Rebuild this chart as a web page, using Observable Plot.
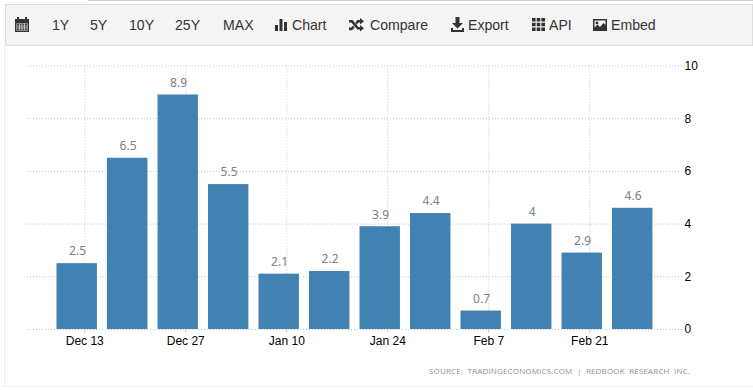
<!DOCTYPE html>
<html>
<head>
<meta charset="utf-8">
<script src="https://cdn.jsdelivr.net/npm/d3@7"></script>
<script src="https://cdn.jsdelivr.net/npm/@observablehq/plot@0.6"></script>
<style>
html,body{margin:0;padding:0;background:#fff;width:753px;height:390px;overflow:hidden}
#page{position:relative;width:753px;height:390px;font-family:"Liberation Sans",Arial,sans-serif}
#topline{position:absolute;left:88px;right:0;top:0;height:1px;background:#ccc}
#frameL{position:absolute;left:4px;top:46px;width:1px;height:341px;background:#eee}
#frameB{position:absolute;left:4px;right:0;top:386px;height:1px;background:#eee}
#toolbar{position:absolute;left:5px;top:4px;width:746px;height:40px;background:#f4f4f4;border:1px solid #ddd;color:#333;font-size:14.1px}
#toolbar span,#toolbar svg{position:absolute}
#toolbar span{top:12px;line-height:17px;white-space:nowrap}
#toolbar svg{fill:#333}
#chart{position:absolute;left:0;top:46px}
#chart svg{display:block}
#source{position:absolute;left:429px;top:365px;font:8px "Open Sans",sans-serif;color:#8a8f9c;letter-spacing:.16px;white-space:pre}
</style>
</head>
<body>
<div id="page">
  <div id="topline"></div><div id="frameL"></div><div id="frameB"></div>
  <div id="toolbar"></div>
  <div id="chart"></div>
  <div id="source"></div>
</div>
<script>
const weeks = ["2020-12-12","2020-12-19","2020-12-26","2021-01-02","2021-01-09","2021-01-16","2021-01-23","2021-01-30","2021-02-06","2021-02-13","2021-02-20","2021-02-27"];
const values = [2.5,6.5,8.9,5.5,2.1,2.2,3.9,4.4,0.7,4,2.9,4.6];
const xTicks = ["2020-12-13","2020-12-27","2021-01-10","2021-01-24","2021-02-07","2021-02-21"];
const yTicks = [0,2,4,6,8,10];
const sourceText = "SOURCE:  TRADINGECONOMICS.COM  |  REDBOOK  RESEARCH  INC.";
const rangeLabels = [["1Y",52],["5Y",90],["10Y",129],["25Y",175],["MAX",223]];
const toolLabels = [["Chart",292],["Compare",370],["Export",468],["API",549],["Embed",611]];

const day = 864e5;
const d = s => new Date(s + "T00:00:00Z");
const rows = weeks.map((w,i) => ({date:d(w), value:values[i]}));

const chart = Plot.plot({
  width: 753, height: 344,
  marginLeft: 27, marginRight: 71, marginTop: 19.5, marginBottom: 61,
  style: {background:"transparent"},
  x: {type:"utc", domain:[new Date(d(xTicks[0]).getTime() - 7.94*day), new Date(d(xTicks[0]).getTime() + 82.85*day)]},
  y: {domain:[0,10]},
  marks: [
    Plot.ruleY(yTicks, {stroke:"#c4c4c4", strokeDasharray:"1 2", strokeWidth:1}),
    Plot.ruleX(xTicks.map(d), {stroke:"#c4c4c4", strokeDasharray:"1 2", strokeWidth:1}),
    Plot.rectY(rows, {x1:r => new Date(+r.date - 2.85*day), x2:r => new Date(+r.date + 2.75*day), y1:0, y2:"value", fill:"#4282b2"}),
    Plot.text(rows, {x:"date", y:"value", text:r => String(r.value), dy:-12, fill:"#7d7d85", fontSize:12, fontFamily:"'Noto Sans',sans-serif"}),
    Plot.axisX({ticks:xTicks.map(d), tickFormat:t => d3.utcFormat("%b %-d")(t), tickSize:4, tickPadding:3, stroke:"#ccc", fill:"#000", fontSize:12, fontFamily:"'Liberation Sans',Arial,sans-serif"}),
    Plot.axisY({anchor:"right", ticks:yTicks, tickSize:0, tickPadding:2, label:null, fill:"#000", fontSize:12, textAnchor:"start", fontFamily:"'Liberation Sans',Arial,sans-serif"})
  ]
});
document.getElementById("chart").append(chart);
document.getElementById("source").textContent = sourceText;

const tb = document.getElementById("toolbar");
for (const [t,x] of [...rangeLabels, ...toolLabels]) {
  const s = document.createElement("span");
  s.textContent = t; s.style.left = (x - 6) + "px"; tb.append(s);
}
const icons = [
 [15,`<rect x="0" y="2" width="14" height="13"/><rect x="2" y="0" width="2" height="3"/><rect x="10" y="0" width="2" height="3"/><path d="M1.5 6.5h11v7h-11z" fill="#f4f4f4"/><path d="M2 7h10v6H2z" fill="#444"/><path d="M2 9h10M2 11h10M4.5 7v6M7 7v6M9.5 7v6" stroke="#f4f4f4" stroke-width=".6"/>`,14,15,13],
 [275,`<rect x="0" y="8" width="3" height="6"/><rect x="4.5" y="2" width="3" height="12"/><rect x="9" y="5" width="3" height="9"/>`,12,14,13],
 [349,`<path d="M0 3h3.5l6 7H11V8l4 3.2-4 3.2V12.6H8.3l-6-7H0zM0 10.6h2.3l1.7-2 1.5 1.8-2.4 2.8H0zM8.3 3H11V1l4 3.2-4 3.2V5.4H9.5l-1.7 2-1.5-1.8z" transform="translate(0,-1)"/>`,15,14,14],
 [451,`<path d="M4.5 0h4v6H12L6.5 11.5 1 6h3.5zM0 11h2v2h9v-2h2v4H0z"/>`,13,15,13],
 [532,`<path d="M0 0h3.6v3.6H0zM4.7 0h3.6v3.6H4.7zM9.4 0H13v3.6H9.4zM0 4.7h3.6v3.6H0zM4.7 4.7h3.6v3.6H4.7zM9.4 4.7H13v3.6H9.4zM0 9.4h3.6V13H0zM4.7 9.4h3.6V13H4.7zM9.4 9.4H13V13H9.4z"/>`,13,13,14],
 [593,`<path fill-rule="evenodd" d="M0 0h14v12H0zM1.5 1.5v7l3-3 2.5 2.5 3.5-4 2 2V1.5z"/><circle cx="4" cy="4" r="1.4"/>`,14,12,15]
];
for (const [x,body,w,h,y] of icons) {
  tb.insertAdjacentHTML("beforeend", `<svg style="left:${x-6}px;top:${y-1}px" width="${w}" height="${h}" viewBox="0 0 ${w} ${h}">${body}</svg>`);
}
</script>
</body>
</html>
